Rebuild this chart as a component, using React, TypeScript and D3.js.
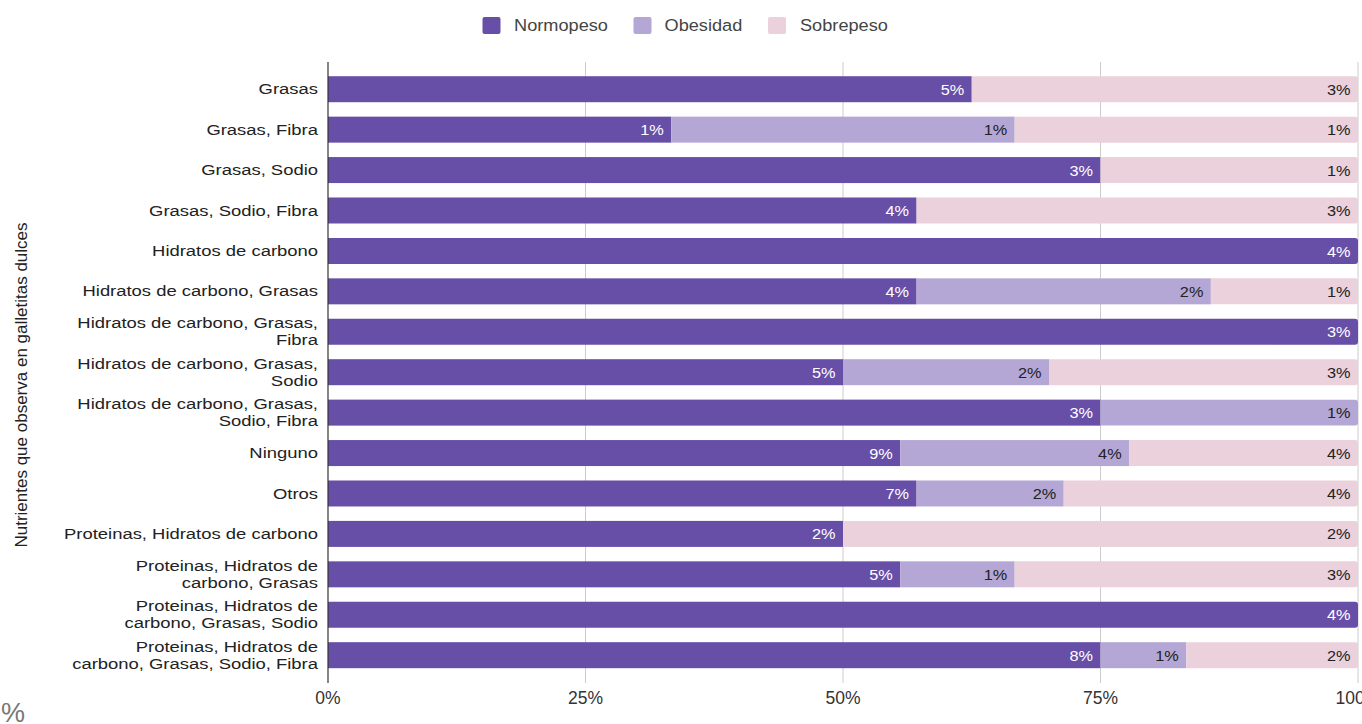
import React from "react";
import * as d3 from "d3";

const categoryLines: string[][] = [
  ["Grasas"],
  ["Grasas, Fibra"],
  ["Grasas, Sodio"],
  ["Grasas, Sodio, Fibra"],
  ["Hidratos de carbono"],
  ["Hidratos de carbono, Grasas"],
  ["Hidratos de carbono, Grasas,", "Fibra"],
  ["Hidratos de carbono, Grasas,", "Sodio"],
  ["Hidratos de carbono, Grasas,", "Sodio, Fibra"],
  ["Ninguno"],
  ["Otros"],
  ["Proteinas, Hidratos de carbono"],
  ["Proteinas, Hidratos de", "carbono, Grasas"],
  ["Proteinas, Hidratos de", "carbono, Grasas, Sodio"],
  ["Proteinas, Hidratos de", "carbono, Grasas, Sodio, Fibra"],
];
const categories = categoryLines.map((l) => l.join(" "));

const normopeso = [5, 1, 3, 4, 4, 4, 3, 5, 3, 9, 7.2, 2, 5, 4, 8.1];
const obesidad = [0, 1, 0, 0, 0, 2, 0, 2, 1, 3.6, 1.8, 0, 1, 0, 0.9];
const sobrepeso = [3, 1, 1, 3, 0, 1, 0, 3, 0, 3.6, 3.6, 2, 3, 0, 1.8];

const seriesNames = ["Normopeso", "Obesidad", "Sobrepeso"];
const seriesColors = ["#674ea7", "#b4a7d6", "#ead1dc"];
const labelColors = ["#ffffff", "#222222", "#222222"];
const xTicks = [0, 0.25, 0.5, 0.75, 1];
const yTitle = "Nutrientes que observa en galletitas dulces";

const W = 1362;
const H = 724;
const FONT = "'Liberation Sans', Arial, sans-serif";

function roundRightRect(x: number, y: number, w: number, h: number, r: number) {
  const rr = Math.min(r, w / 2, h / 2);
  return `M${x},${y}H${x + w - rr}Q${x + w},${y} ${x + w},${y + rr}V${y + h - rr}Q${x + w},${y + h} ${x + w - rr},${y + h}H${x}Z`;
}

export default function App() {
  const x = d3.scaleLinear().domain([0, 1]).range([328, 1358]);
  const y = d3
    .scaleBand<string>()
    .domain(categories)
    .range([69, 675.4])
    .paddingInner(0.357)
    .paddingOuter(0.1785);

  const rows = categories.map((c, i) => {
    const vals = [normopeso[i], obesidad[i], sobrepeso[i]];
    const total = d3.sum(vals);
    let acc = 0;
    const lastIdx = vals.reduce((m, v, k) => (v > 0 ? k : m), 0);
    const segs = vals.map((v, k) => {
      const s = acc / total;
      acc += v;
      const e = acc / total;
      return { k, v, s, e, last: k === lastIdx };
    });
    return { c, i, segs };
  });

  const bw = y.bandwidth();

  const legendItems = [
    { sx: 482.5, tx: 514 },
    { sx: 633.5, tx: 664.5 },
    { sx: 768, tx: 800 },
  ];

  return (
    <svg
      width={W}
      height={H}
      style={{ position: "absolute", left: 0, top: 0, display: "block", background: "#fff" }}
      fontFamily={FONT}
    >
      <rect x={0} y={0} width={W} height={H} fill="#fff" />
      {/* legend */}
      {seriesNames.map((n, k) => (
        <g key={n}>
          <rect x={legendItems[k].sx} y={17} width={18} height={17} rx={2} fill={seriesColors[k]} />
          <text
            transform={`translate(${legendItems[k].tx},31) scale(1.07,1)`}
            fontSize={17}
            fill="#444"
          >
            {n}
          </text>
        </g>
      ))}

      {/* gridlines */}
      {xTicks.map((t) =>
        t === 0 ? null : (
          <line key={t} x1={x(t)} x2={x(t)} y1={62} y2={683} stroke="#cccccc" strokeWidth={1} />
        )
      )}

      {/* bars */}
      {rows.map((r) => {
        const y0 = y(r.c) as number;
        return (
          <g key={r.c}>
            {r.segs.map((s) =>
              s.v > 0 ? (
                s.last ? (
                  <path
                    key={s.k}
                    d={roundRightRect(x(s.s), y0, x(s.e) - x(s.s), bw, 3)}
                    fill={seriesColors[s.k]}
                  />
                ) : (
                  <rect
                    key={s.k}
                    x={x(s.s)}
                    y={y0}
                    width={x(s.e) - x(s.s)}
                    height={bw}
                    fill={seriesColors[s.k]}
                  />
                )
              ) : null
            )}
            {r.segs.map((s) =>
              s.v > 0 ? (
                <text
                  key={"l" + s.k}
                  transform={`translate(${x(s.e) - 7.5},${y0 + bw / 2}) scale(1.05,1)`}
                  dy="0.36em"
                  textAnchor="end"
                  fontSize={15.5}
                  fill={labelColors[s.k]}
                >
                  {Math.round(s.v) + "%"}
                </text>
              ) : null
            )}
          </g>
        );
      })}

      {/* axis line */}
      <line x1={x(0)} x2={x(0)} y1={62} y2={683} stroke="#333" strokeWidth={1.2} />

      {/* category labels */}
      {rows.map((r) => {
        const cy = (y(r.c) as number) + bw / 2;
        const lines = categoryLines[r.i];
        const lh = 17;
        return (
          <g key={"c" + r.c}>
            {lines.map((ln, j) => {
              const ly = cy + (j - (lines.length - 1) / 2) * lh - 0.5;
              return (
                <text
                  key={j}
                  transform={`translate(318,${ly}) scale(1.19,1)`}
                  dy="0.36em"
                  textAnchor="end"
                  fontSize={15.5}
                  fill="#222"
                >
                  {ln}
                </text>
              );
            })}
          </g>
        );
      })}

      {/* x tick labels */}
      {xTicks.map((t) => (
        <text key={"t" + t} x={x(t)} y={704} textAnchor="middle" fontSize={17.5} fill="#333">
          {d3.format(".0%")(t)}
        </text>
      ))}

      {/* y title */}
      <text
        transform={`translate(27,385) rotate(-90)`}
        textAnchor="middle"
        fontSize={17}
        fill="#222"
      >
        {yTitle}
      </text>

      {/* x title */}
      <text x={1} y={722} fontSize={27} fill="#777">
        %
      </text>
    </svg>
  );
}
